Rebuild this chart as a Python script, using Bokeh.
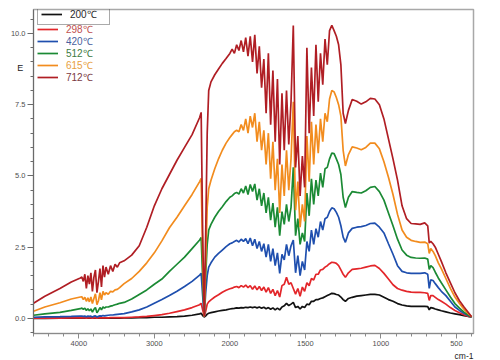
from bokeh.plotting import figure
from bokeh.models import (ColumnDataSource, Range1d, FixedTicker, Legend, LegendItem,
                          Label, Title, CustomJSTransform, NumeralTickFormatter)
from bokeh.transform import transform
from bokeh.embed import file_html
from bokeh.resources import INLINE

# ---------------- data ----------------
wavenumber = [
    4600, 4450, 4250, 4100, 3980,
    3960, 3940, 3920, 3900, 3880, 3860, 3840, 3820, 3800, 3780, 3760, 3740, 3720, 3700,
    3680, 3660, 3640, 3610, 3580, 3550, 3520, 3490, 3460,
    3400, 3300, 3200, 3100, 3000, 2900, 2800, 2700, 2600, 2500, 2400, 2380, 2360, 2340,
    2320, 2300, 2280, 2250, 2200, 2150, 2100, 2050, 2000,
    1985, 1970, 1955, 1940, 1925, 1910, 1895, 1880, 1865, 1850, 1835, 1820, 1805, 1790,
    1775, 1760, 1745, 1730, 1715, 1700, 1685, 1670, 1655, 1640, 1625, 1610, 1595, 1580,
    1565, 1550, 1535, 1520, 1505, 1490, 1475, 1460, 1445, 1430, 1415, 1400, 1385, 1370,
    1355, 1340, 1325, 1310, 1295, 1280, 1265,
    1250, 1235, 1215, 1190, 1160, 1130, 1100, 1070, 1040, 1010, 980, 950, 920, 890, 860,
    830, 800, 770, 740, 710, 690, 680, 670, 655, 640, 620, 600, 570, 540, 510, 480, 450,
    420, 400,
]

e200 = [
    0.00, 0.00, 0.01, 0.01, 0.01,
    0.01, 0.01, 0.01, 0.01, 0.01, 0.01, 0.01, 0.01, 0.01, 0.01, 0.01, 0.01, 0.01, 0.01,
    0.01, 0.01, 0.01, 0.01, 0.01, 0.01, 0.01, 0.01, 0.01,
    0.02, 0.02, 0.03, 0.03, 0.04, 0.04, 0.05, 0.06, 0.08, 0.11, 0.16, 0.18, 0.10, 0.05,
    0.09, 0.15, 0.18, 0.20, 0.23, 0.26, 0.28, 0.30, 0.33,
    0.34, 0.35, 0.37, 0.36, 0.38, 0.37, 0.39, 0.38, 0.40, 0.38, 0.40, 0.37, 0.40, 0.36,
    0.39, 0.34, 0.38, 0.32, 0.37, 0.30, 0.36, 0.30, 0.40, 0.44, 0.53, 0.45, 0.50, 0.56,
    0.38, 0.42, 0.33, 0.42, 0.38, 0.50, 0.48, 0.60, 0.60, 0.66, 0.66, 0.70, 0.72, 0.76,
    0.80, 0.84, 0.88, 0.87, 0.84, 0.82, 0.75,
    0.66, 0.60, 0.70, 0.74, 0.78, 0.80, 0.82, 0.84, 0.84, 0.82, 0.74, 0.66, 0.60, 0.52, 0.47,
    0.44, 0.42, 0.42, 0.42, 0.42, 0.41, 0.30, 0.38, 0.36, 0.33, 0.30, 0.27, 0.23, 0.19, 0.16,
    0.13, 0.10, 0.07, 0.05,
]

e298 = [
    0.01, 0.01, 0.01, 0.02, 0.02,
    0.02, 0.02, 0.02, 0.01, 0.02, 0.02, 0.02, 0.01, 0.02, 0.02, 0.01, 0.02, 0.02, 0.02,
    0.02, 0.02, 0.02, 0.02, 0.03, 0.03, 0.03, 0.03, 0.03,
    0.03, 0.04, 0.05, 0.07, 0.10, 0.13, 0.18, 0.24, 0.30, 0.38, 0.48, 0.53, 0.30, 0.07,
    0.25, 0.50, 0.58, 0.65, 0.75, 0.83, 0.92, 0.99, 1.04,
    1.06, 1.10, 1.12, 1.08, 1.15, 1.10, 1.17, 1.08, 1.15, 1.02, 1.14, 1.00, 1.12, 0.98,
    1.10, 0.92, 1.08, 0.88, 1.02, 0.80, 0.98, 0.75, 1.15, 1.20, 1.44, 1.20, 1.25, 1.05,
    0.85, 1.05, 0.78, 1.10, 0.95, 1.25, 1.15, 1.40, 1.35, 1.55, 1.55, 1.70, 1.72, 1.80,
    1.85, 1.92, 1.97, 1.96, 1.93, 1.85, 1.70,
    1.55, 1.44, 1.60, 1.72, 1.74, 1.76, 1.80, 1.84, 1.86, 1.75, 1.58, 1.38, 1.18, 1.05, 0.99,
    0.95, 0.92, 0.91, 0.91, 0.90, 0.88, 0.63, 0.80, 0.80, 0.74, 0.66, 0.60, 0.50, 0.38, 0.28,
    0.20, 0.13, 0.07, 0.04,
]

e420 = [
    0.04, 0.05, 0.06, 0.07, 0.08,
    0.08, 0.07, 0.08, 0.06, 0.08, 0.07, 0.08, 0.05, 0.08, 0.09, 0.05, 0.07, 0.09, 0.08,
    0.10, 0.09, 0.10, 0.11, 0.12, 0.12, 0.13, 0.14, 0.15,
    0.17, 0.23, 0.30, 0.40, 0.53, 0.66, 0.80, 0.95, 1.12, 1.30, 1.52, 1.58, 0.80, 0.07,
    0.90, 1.50, 1.80, 1.95, 2.15, 2.28, 2.40, 2.52, 2.62,
    2.65, 2.70, 2.74, 2.68, 2.78, 2.70, 2.80, 2.62, 2.82, 2.55, 2.78, 2.45, 2.70, 2.35,
    2.62, 2.15, 2.60, 2.00, 2.45, 1.85, 2.30, 1.58, 2.25, 2.05, 2.60, 2.20, 2.55, 2.75,
    1.60, 2.20, 1.50, 2.00, 1.70, 2.70, 2.35, 3.10, 2.60, 3.15, 2.85, 3.40, 3.10, 3.50,
    3.55, 3.75, 3.88, 3.85, 3.72, 3.55, 3.25,
    2.85, 2.67, 3.00, 3.16, 3.20, 3.22, 3.26, 3.33, 3.34, 3.20, 3.00, 2.62, 2.25, 1.85, 1.65,
    1.60, 1.58, 1.58, 1.58, 1.60, 1.55, 1.05, 1.35, 1.33, 1.22, 1.08, 0.95, 0.80, 0.60, 0.40,
    0.28, 0.18, 0.09, 0.05,
]

e512 = [
    0.11, 0.16, 0.21, 0.28, 0.34,
    0.36, 0.32, 0.36, 0.28, 0.34, 0.27, 0.33, 0.22, 0.32, 0.38, 0.20, 0.28, 0.38, 0.30,
    0.40, 0.36, 0.40, 0.40, 0.43, 0.45, 0.48, 0.50, 0.53,
    0.56, 0.68, 0.84, 1.00, 1.20, 1.38, 1.65, 1.90, 2.15, 2.45, 2.75, 2.84, 1.40, 0.07,
    1.50, 2.60, 3.10, 3.30, 3.55, 3.75, 3.92, 4.10, 4.25,
    4.30, 4.38, 4.42, 4.36, 4.55, 4.40, 4.65, 4.35, 4.70, 4.45, 4.72, 4.15, 4.55, 3.95,
    4.40, 3.70, 4.25, 3.45, 4.05, 3.20, 3.90, 2.90, 3.75, 3.30, 4.00, 3.40, 3.90, 5.30,
    2.90, 3.50, 2.60, 3.00, 2.70, 4.40, 3.60, 4.90, 4.00, 4.85, 4.30, 5.10, 4.60, 5.25,
    5.30, 5.60, 5.80, 5.78, 5.60, 5.40, 5.05,
    4.25, 3.89, 4.25, 4.45, 4.42, 4.40, 4.48, 4.60, 4.63, 4.45, 4.15, 3.70, 3.25, 2.78, 2.40,
    2.22, 2.14, 2.12, 2.11, 2.12, 2.08, 1.72, 1.85, 1.78, 1.62, 1.42, 1.25, 1.00, 0.75, 0.52,
    0.36, 0.22, 0.11, 0.05,
]

e615 = [
    0.25, 0.40, 0.55, 0.68, 0.75,
    0.76, 0.66, 0.74, 0.60, 0.72, 0.58, 0.75, 0.52, 0.70, 0.86, 0.48, 0.62, 0.90, 0.65,
    0.95, 0.82, 0.90, 0.85, 0.95, 0.93, 1.00, 1.02, 1.08,
    1.22, 1.40, 1.65, 1.95, 2.30, 2.72, 3.18, 3.55, 3.95, 4.35, 4.80, 4.91, 2.20, 0.07,
    2.00, 3.90, 4.55, 4.85, 5.25, 5.60, 5.90, 6.15, 6.35,
    6.45, 6.55, 6.60, 6.55, 6.80, 6.60, 7.00, 6.50, 7.10, 6.70, 7.20, 6.20, 6.90, 5.90,
    6.60, 5.40, 6.50, 4.90, 6.20, 4.50, 5.60, 3.70, 5.40, 4.30, 5.90, 4.50, 5.60, 7.60,
    3.80, 4.80, 3.20, 4.00, 3.40, 6.40, 4.80, 6.90, 5.40, 6.80, 5.80, 7.00, 6.20, 7.20,
    6.90, 7.70, 8.00, 7.95, 7.75, 7.50, 7.10,
    5.90, 5.35, 5.75, 6.02, 5.98, 5.92, 6.00, 6.15, 6.15, 5.95, 5.50, 4.95, 4.35, 3.65, 3.10,
    2.85, 2.74, 2.70, 2.67, 2.68, 2.62, 2.28, 2.45, 2.35, 2.20, 1.95, 1.75, 1.40, 1.05, 0.75,
    0.52, 0.32, 0.16, 0.06,
]

e712 = [
    0.53, 0.78, 1.05, 1.28, 1.42,
    1.45, 1.30, 1.55, 1.05, 1.50, 1.20, 1.60, 0.95, 1.45, 1.70, 0.90, 1.30, 1.75, 1.10,
    1.85, 1.45, 1.80, 1.55, 1.85, 1.65, 1.90, 1.80, 1.95,
    2.02, 2.22, 2.55, 3.20, 3.95, 4.55, 5.05, 5.55, 6.00, 6.45, 7.05, 7.23, 3.00, 0.07,
    3.00, 6.50, 8.00, 8.30, 8.55, 8.75, 8.95, 9.12, 9.30,
    9.45, 9.30, 9.60, 9.40, 9.75, 9.35, 9.85, 9.20, 9.90, 9.00, 9.95, 8.60, 9.55, 8.10,
    9.10, 7.20, 9.30, 6.80, 8.70, 6.20, 8.40, 5.40, 7.90, 5.90, 8.00, 6.10, 7.60, 10.28,
    5.30, 6.40, 4.30, 5.70, 4.60, 9.50, 6.50, 8.80, 7.10, 9.60, 7.60, 9.30, 8.20, 9.80,
    8.90, 10.10, 10.28, 10.10, 9.90, 9.60, 8.90,
    7.20, 6.84, 7.30, 7.68, 7.62, 7.52, 7.60, 7.72, 7.70, 7.50, 7.00, 6.30, 5.60, 4.85, 3.95,
    3.50, 3.33, 3.32, 3.30, 3.35, 3.25, 2.65, 2.70, 2.62, 2.50, 2.25, 2.00, 1.60, 1.25, 0.90,
    0.62, 0.40, 0.20, 0.06,
]

series_labels = ["200℃", "298℃", "420℃", "512℃", "615℃", "712℃"]
series_values = [e200, e298, e420, e512, e615, e712]
line_colors = ["#111111", "#e3262a", "#1f4fae", "#1b8a34", "#f28c1e", "#b01e24"]
text_colors = ["#2a2a2a", "#c0504f", "#4a5fa0", "#3d7b42", "#e8a040", "#7a3a42"]

x_tick_wn = [4000, 3000, 2000, 1500, 1000, 500]
x_minor_wn = [4600, 4400, 4200, 3800, 3600, 3400, 3200, 2800, 2600, 2400, 2200,
              1900, 1800, 1700, 1600, 1400, 1300, 1200, 1100, 900, 800, 700, 600, 400]
y_ticks = [0, 2.5, 5, 7.5, 10]
y_minor = [-0.5, 0.5, 1, 1.5, 2, 3, 3.5, 4, 4.5, 5.5, 6, 6.5, 7, 8, 8.5, 9, 9.5, 10.5]

for s in series_values:
    assert len(s) == len(wavenumber), (len(s), len(wavenumber))

# ---------------- IR axis: scale doubles below 2000 cm-1 ----------------
def ir_pos(w):
    return w if w >= 2000 else 2 * w - 2000

ir_scale = CustomJSTransform(v_func="""
const out = new Float64Array(xs.length);
for (let i = 0; i < xs.length; i++) {
  const w = xs[i];
  out[i] = w >= 2000 ? w : 2 * w - 2000;
}
return out;
""")

data = {"wn": wavenumber}
keys = []
for lab, vals in zip(series_labels, series_values):
    k = "s" + lab[:3]
    keys.append(k)
    data[k] = vals
src = ColumnDataSource(data)

p = figure(width=500, height=360, output_backend="svg", toolbar_location=None,
           x_range=Range1d(ir_pos(4600), ir_pos(387)), y_range=Range1d(-0.53, 10.84),
           min_border_left=33, min_border_right=27, min_border_top=9, min_border_bottom=27)
p.background_fill_color = "white"
p.border_fill_color = "white"
p.outline_line_color = "#a8a8a8"
p.outline_line_width = 1.5
p.xgrid.visible = False
p.ygrid.visible = False

renderers = []
for k, c in zip(keys, line_colors):
    r = p.line(x=transform("wn", ir_scale), y=k, source=src, line_color=c, line_width=1.7)
    renderers.append(r)

# axes
xt_major = [ir_pos(w) for w in x_tick_wn]
xt_minor = [ir_pos(w) for w in x_minor_wn]
p.xaxis.ticker = FixedTicker(ticks=xt_major, minor_ticks=xt_minor)
p.xaxis.major_label_overrides = {pos: str(w) for pos, w in zip(xt_major, x_tick_wn)}
p.yaxis.ticker = FixedTicker(ticks=y_ticks, minor_ticks=y_minor)
p.yaxis.formatter = NumeralTickFormatter(format="0.0")

for ax, col in ((p.xaxis, "#8a8a8a"), (p.yaxis, "#6a6a6a")):
    ax.axis_line_color = col
    ax.major_tick_line_color = col
    ax.minor_tick_line_color = col
    ax.major_tick_in = 0
    ax.minor_tick_in = 0
    ax.minor_tick_out = 3
    ax.major_label_text_font = "Liberation Sans"
    ax.major_label_text_font_size = "7.5px"
    ax.major_label_text_color = "#505050"
p.xaxis.major_tick_out = 5
p.yaxis.major_tick_out = 6
p.xaxis.major_label_standoff = 2
p.yaxis.major_label_standoff = 2

# axis captions: "E" beside the top of the y axis (placed in the left side panel so it
# is not clipped by the frame), "cm-1" under the right end of the x axis
p.add_layout(Label(x=ir_pos(4775), y=8.77, text="E", text_font="Liberation Sans",
                   text_font_size="9px", text_color="#222222",
                   text_align="center", text_baseline="middle"), "left")
p.add_layout(Title(text="cm-1", align="right", text_font="Liberation Sans",
                   text_font_size="8.5px", text_font_style="normal", text_color="#222222",
                   standoff=0, offset=0), "below")

# legend: one entry per box so each label keeps its own colour
leg_y = [308.5, 296.6, 284.7, 272.8, 260.9, 249.0]
for i, (lab, r, tc) in enumerate(zip(series_labels, renderers, text_colors)):
    leg = Legend(items=[LegendItem(label=lab, renderers=[r])], location=(4, leg_y[i]),
                 label_text_color=tc, label_text_font="Liberation Sans",
                 label_text_font_size="10px", glyph_width=21, glyph_height=10,
                 label_height=10, label_width=36, label_standoff=8, padding=3, margin=0,
                 spacing=0, background_fill_alpha=0,
                 border_line_color="#555555" if i == 0 else None,
                 border_line_width=1)
    p.add_layout(leg)

open("out.html", "w").write(file_html(p, INLINE))
